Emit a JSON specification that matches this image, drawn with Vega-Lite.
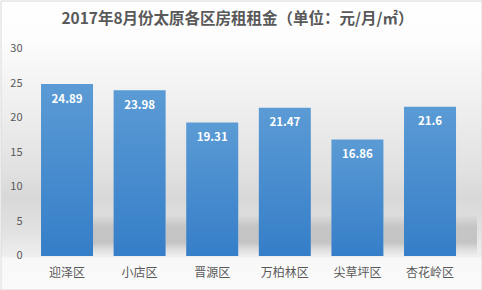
{
  "$schema": "https://vega.github.io/schema/vega-lite/v6.json",
  "width": 481,
  "height": 289,
  "autosize": {"type": "none"},
  "padding": {"left": 0.5, "top": 0.5, "right": 0.5, "bottom": 0.5},
  "background": "#ffffff",
  "config": {
    "view": {
      "stroke": "#d9d9d9",
      "strokeWidth": 1,
      "fill": {
        "gradient": "linear",
        "x1": 0, "y1": 0, "x2": 0, "y2": 1,
        "stops": [
          {"offset": 0, "color": "#ffffff"},
          {"offset": 0.14, "color": "#fcfcfc"},
          {"offset": 0.38, "color": "#eeeeee"},
          {"offset": 0.6, "color": "#e0e0e0"},
          {"offset": 0.68, "color": "#d8d8d8"},
          {"offset": 0.8, "color": "#e2e2e2"},
          {"offset": 0.884, "color": "#efefef"},
          {"offset": 0.89, "color": "#f8f8f8"},
          {"offset": 1, "color": "#fafafa"}
        ]
      }
    },
    "font": "Noto Sans CJK SC"
  },
  "datasets": {
    "rents": [
      {"district": "迎泽区", "rent": 24.89},
      {"district": "小店区", "rent": 23.98},
      {"district": "晋源区", "rent": 19.31},
      {"district": "万柏林区", "rent": 21.47},
      {"district": "尖草坪区", "rent": 16.86},
      {"district": "杏花岭区", "rent": 21.6}
    ],
    "heading": [
      {"label": "2017年8月份太原各区房租租金（单位：元/月/㎡）"}
    ]
  },
  "data": {"name": "rents"},
  "layer": [
    {
      "mark": {
        "type": "bar",
        "width": 21,
        "xOffset": 36.5,
        "fill": {
          "gradient": "linear",
          "x1": 0, "y1": 0, "x2": 0, "y2": 1,
          "stops": [
            {"offset": 0, "color": "rgba(190,190,190,0)"},
            {"offset": 0.3, "color": "rgba(190,190,190,0.8)"},
            {"offset": 0.7, "color": "rgba(192,192,192,0.9)"},
            {"offset": 1, "color": "rgba(220,220,220,0.2)"}
          ]
        }
      },
      "encoding": {
        "x": {
          "field": "district",
          "type": "nominal",
          "sort": null,
          "scale": {"paddingInner": 0.2837, "paddingOuter": 0.4545, "align": 0.614},
          "axis": {
            "title": null,
            "orient": "bottom",
            "offset": -33.5,
            "domain": false,
            "ticks": false,
            "tickSize": 0,
            "labelAngle": 0,
            "labelFont": "Noto Sans CJK SC",
            "labelFontSize": 12,
            "labelColor": "#595959",
            "labelBaseline": "middle",
            "labelPadding": 16.5,
            "grid": false
          }
        },
        "y": {
          "datum": 6,
          "type": "quantitative",
          "scale": {"domain": [-4.85, 36.98], "nice": false, "zero": false},
          "axis": {
            "title": null,
            "orient": "left",
            "offset": -21.5,
            "values": [0, 5, 10, 15, 20, 25, 30],
            "domain": false,
            "ticks": false,
            "tickSize": 0,
            "grid": false,
            "labelPadding": 0,
            "labelFont": "Noto Sans CJK SC",
            "labelFontSize": 11,
            "labelColor": "#595959",
            "labelBaseline": "middle"
          }
        },
        "y2": {"datum": 0.2}
      }
    },
    {
      "mark": {
        "type": "bar",
        "fill": {
          "gradient": "linear",
          "x1": 0, "y1": 0, "x2": 0, "y2": 1,
          "stops": [
            {"offset": 0, "color": "#5b9bd5"},
            {"offset": 1, "color": "#357ec8"}
          ]
        }
      },
      "encoding": {
        "x": {"field": "district", "type": "nominal", "sort": null},
        "y": {"field": "rent", "type": "quantitative"},
        "y2": {"datum": 0}
      }
    },
    {
      "mark": {
        "type": "text",
        "color": "#ffffff",
        "font": "Noto Sans CJK SC",
        "fontSize": 11.5,
        "fontWeight": "bold",
        "baseline": "middle",
        "dy": 15.5
      },
      "encoding": {
        "x": {"field": "district", "type": "nominal", "sort": null},
        "y": {"field": "rent", "type": "quantitative"},
        "text": {"field": "rent", "type": "quantitative"}
      }
    },
    {
      "data": {"name": "heading"},
      "mark": {
        "type": "text",
        "color": "#595959",
        "font": "Noto Sans CJK SC",
        "fontSize": 15.5,
        "fontWeight": "bold",
        "baseline": "middle",
        "align": "center",
        "dx": -3.5
      },
      "encoding": {
        "y": {"datum": 34.23, "type": "quantitative"},
        "text": {"field": "label", "type": "nominal"}
      }
    }
  ]
}
